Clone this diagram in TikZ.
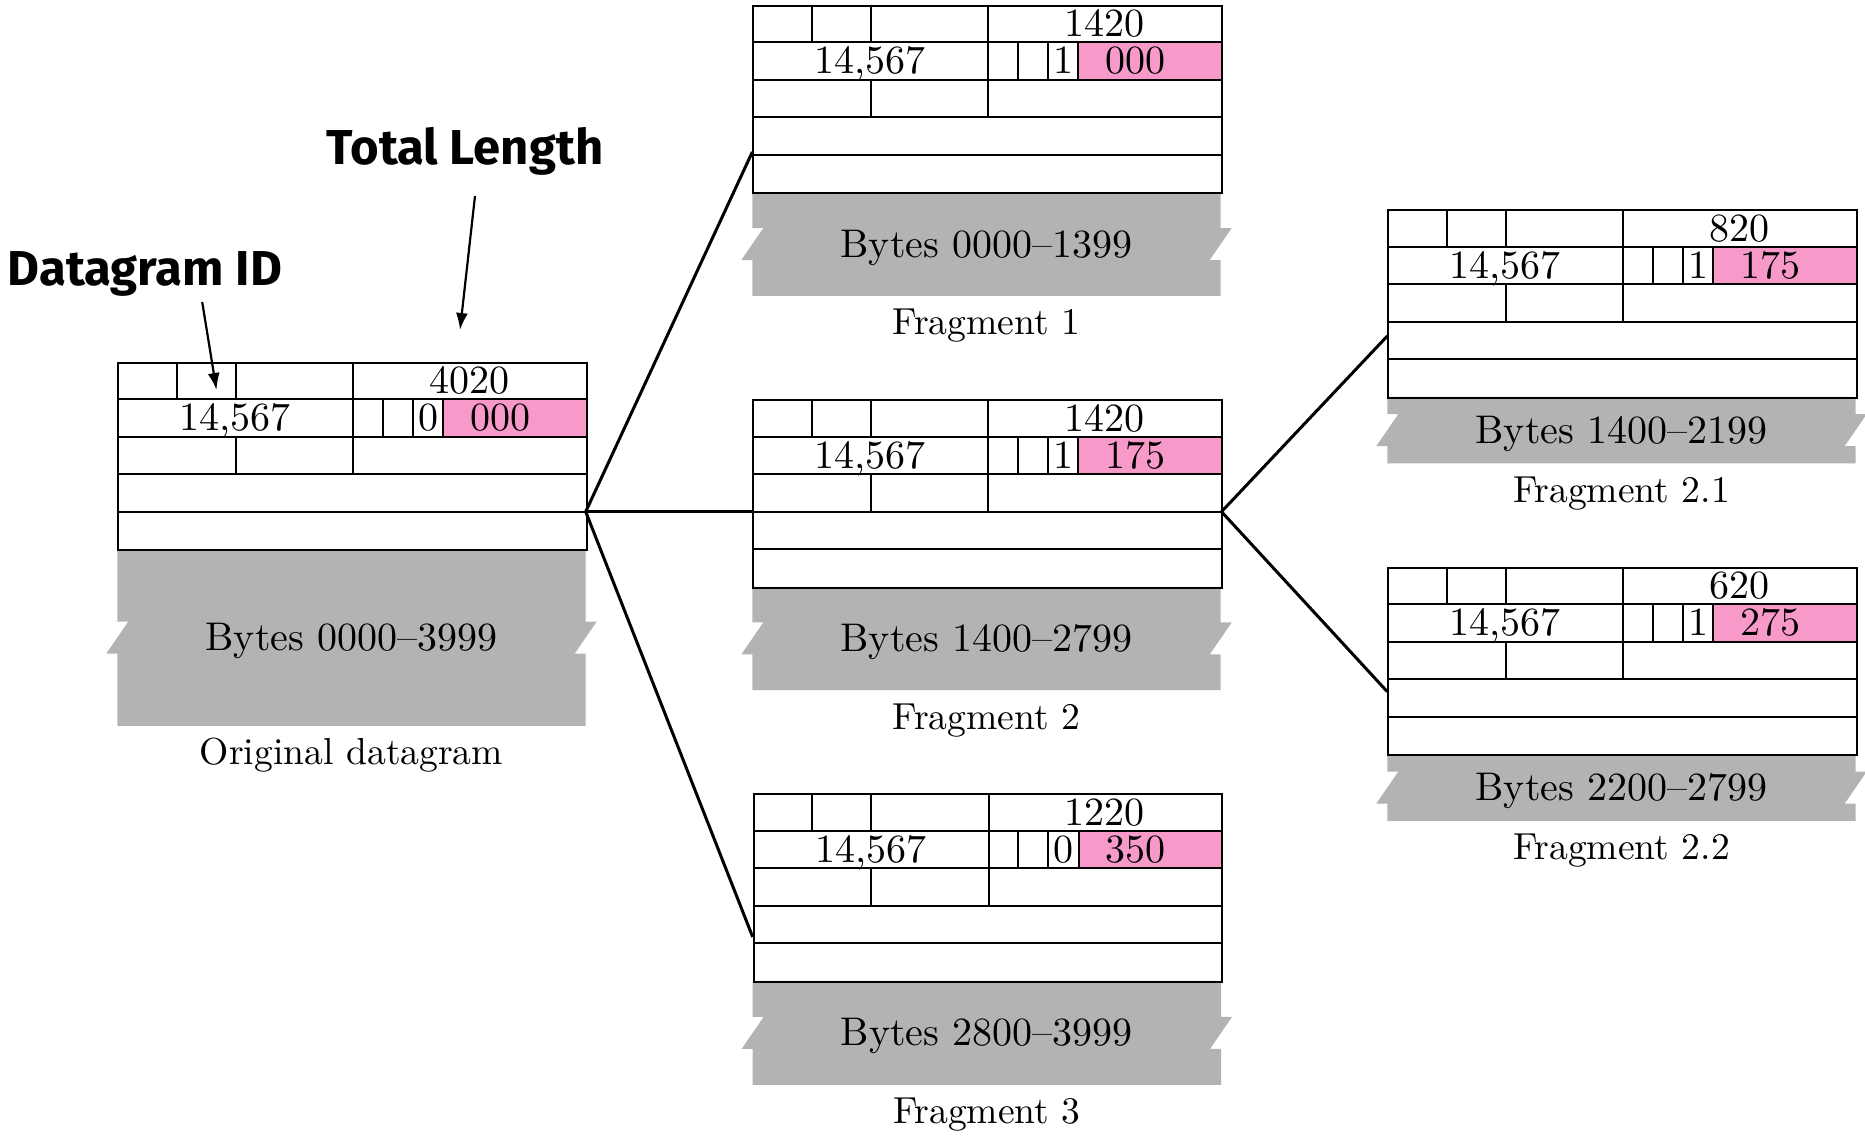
\documentclass[tikz,border=0pt]{standalone}
\usepackage{fontspec}
\setmainfont{lmroman10-regular.otf}[Ligatures=TeX]
\newfontfamily\lblfont{Fira Sans}
\usetikzlibrary{arrows.meta}
\definecolor{bytegray}{RGB}{179,179,179}
\definecolor{offpink}{RGB}{247,153,201}
\tikzset{
  boxline/.style={line width=2pt, draw=black},
  cell/.style={inner sep=0pt, anchor=base, font=\fontsize{40}{48}\selectfont},
  caption/.style={inner sep=0pt, anchor=base, font=\fontsize{37.6}{45}\selectfont},
  callout/.style={inner sep=0pt, anchor=base, font=\lblfont\bfseries\fontsize{49}{60}\selectfont},
  link/.style={line width=3pt, draw=black},
  pointer/.style={line width=2.2pt, draw=black, -{Latex[length=17pt,width=12pt]}},
}
\newcommand\ipbox[9]{%
 \begin{scope}[shift={(#2,#3)}]
  \pgfmathsetmacro\ipgh{#7}
  \pgfmathsetmacro\ipbt{187.5+\ipgh/2-16}
  \pgfmathsetmacro\ipbb{187.5+\ipgh/2+16}
  \pgfmathsetmacro\ipgb{187.5+\ipgh}
  \pgfmathsetmacro\iptx{187.5+\ipgh/2+13}
  \pgfmathsetmacro\ipcy{187.5+\ipgh+39}
  \fill[bytegray] (0,187.5) -- (468.4,187.5) -- (468.4,\ipbt) -- (479.4,\ipbt) -- (457.4,\ipbb) -- (468.4,\ipbb) -- (468.4,\ipgb) -- (0,\ipgb) -- (0,\ipbb) -- (-11,\ipbb) -- (11,\ipbt) -- (0,\ipbt) -- cycle;
  \fill[offpink] (326,37.5) rectangle (468.4,75);
  \draw[boxline] (0,37.5) -- ++(468.4,0) (0,75) -- ++(468.4,0) (0,112.5) -- ++(468.4,0) (0,150) -- ++(468.4,0);
  \draw[boxline] (59.2,0) -- (59.2,37.5) (118.4,0) -- (118.4,37.5) (236,0) -- (236,112.5)
     (265.5,37.5) -- (265.5,75) (295.5,37.5) -- (295.5,75) (326,37.5) -- (326,75)
     (118.4,75) -- (118.4,112.5);
  \node[boxline, rectangle, anchor=north west, inner sep=0pt, minimum width=468.4pt, minimum height=187.5pt] (#1) at (0,0) {};
  \node[cell] (#1-len) at (352,31.7) {#4};
  \node[cell] (#1-id) at (118,69.2) {14,567};
  \node[cell] (#1-mf) at (311,69.2) {#5};
  \node[cell] (#1-off) at (383,69.2) {#6};
  \node[cell] (#1-bytes) at (234.2,\iptx) {#8};
  \node[caption] (#1-cap) at (234.2,\ipcy) {#9};
 \end{scope}}
\begin{document}
\begin{tikzpicture}[x=1pt,y=-1pt]
\useasboundingbox (0,0) rectangle (1865,1136);
\ipbox{orig}{117.3}{361.7}{4020}{0}{000}{176.7}{Bytes 0000--3999}{Original datagram}
\ipbox{fa}{752.3}{4.7}{1420}{1}{000}{103.7}{Bytes 0000--1399}{Fragment 1}
\ipbox{fb}{752.3}{399.3}{1420}{1}{175}{103.3}{Bytes 1400--2799}{Fragment 2}
\ipbox{fc}{752.7}{793.3}{1220}{0}{350}{104}{Bytes 2800--3999}{Fragment 3}
\ipbox{fba}{1387.3}{209.3}{820}{1}{175}{66.6}{Bytes 1400--2199}{Fragment 2.1}
\ipbox{fbb}{1387.3}{566.7}{620}{1}{275}{66.7}{Bytes 2200--2799}{Fragment 2.2}
% connector points
\coordinate (o-out) at (585.7,511.7);
\coordinate (fa-in) at (752.3,152);
\coordinate (fb-in) at (752.3,511.7);
\coordinate (fc-in) at (752.7,937);
\coordinate (fb-out) at (1221.5,511.7);
\coordinate (fba-in) at (1387.3,336);
\coordinate (fbb-in) at (1387.3,691.7);
\draw[link] (o-out) -- (fa-in);
\draw[link] (o-out) -- (fb-in);
\draw[link] (o-out) -- (fc-in);
\draw[link] (fb-out) -- (fba-in);
\draw[link] (fb-out) -- (fbb-in);
% callouts
\node[callout] (tl) at (465,164) {Total Length};
\node[callout] (did) at (145,285.5) {Datagram ID};
\coordinate (tl-from) at (475,196);
\coordinate (tl-to) at (460,330);
\coordinate (did-from) at (202.2,302);
\coordinate (did-to) at (216.5,390);
\draw[pointer] (tl-from) -- (tl-to);
\draw[pointer] (did-from) -- (did-to);
\end{tikzpicture}
\end{document}
